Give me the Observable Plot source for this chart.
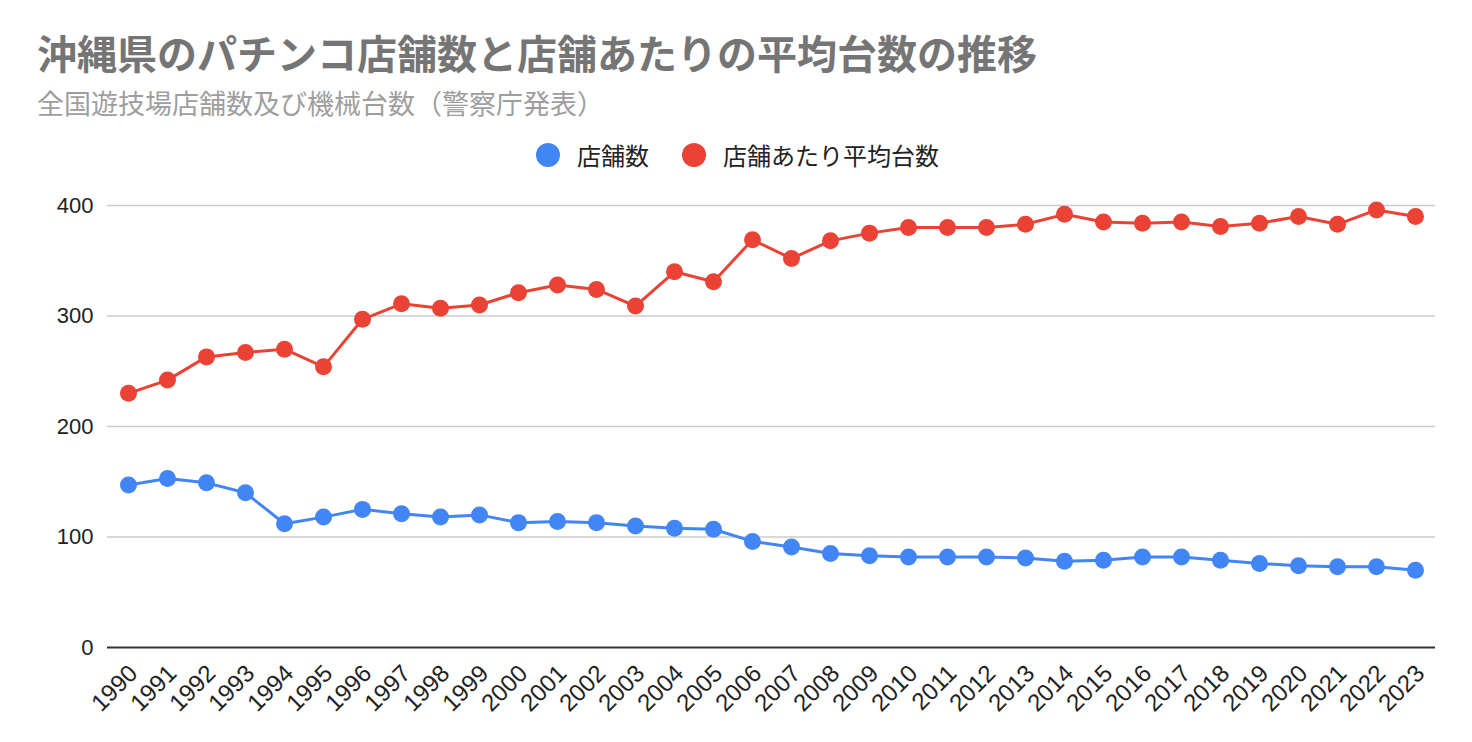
<!DOCTYPE html>
<html>
<head>
<meta charset="utf-8">
<script src="https://cdn.jsdelivr.net/npm/d3@7"></script>
<script src="https://cdn.jsdelivr.net/npm/@observablehq/plot@0.6"></script>
<style>
  html, body { margin: 0; padding: 0; background: #fff; }
  #wrap { position: relative; width: 1472px; height: 742px; overflow: hidden; }
  .abs { position: absolute; white-space: nowrap; font-family: "Noto Sans CJK JP", "Noto Sans", sans-serif; }
  #title { left: 37px; top: 32px; font-size: 40px; line-height: 40px; font-weight: bold; color: #757575; }
  #subtitle { left: 37px; top: 89px; font-size: 27px; line-height: 27px; color: #9e9e9e; }
  #legend { left: 536px; top: 143px; font-size: 24px; line-height: 24px; color: #222; display: flex; align-items: center; }
  #legend .sw { width: 24px; height: 24px; border-radius: 50%; display: inline-block; margin-right: 17px; }
  #legend .item { display: flex; align-items: center; margin-right: 33px; }
  #chart { position: absolute; left: 0; top: 180px; }
</style>
</head>
<body>
<div id="wrap">
  <div id="title" class="abs"></div>
  <div id="subtitle" class="abs"></div>
  <div id="legend" class="abs"></div>
  <div id="chart"></div>
</div>
<script>
const titleText = "沖縄県のパチンコ店舗数と店舗あたりの平均台数の推移";
const subtitleText = "全国遊技場店舗数及び機械台数（警察庁発表）";
const seriesNames = ["店舗数", "店舗あたり平均台数"];
const seriesColors = ["#4285F4", "#EA4335"];

const years = [1990,1991,1992,1993,1994,1995,1996,1997,1998,1999,2000,2001,2002,2003,2004,2005,2006,2007,2008,2009,2010,2011,2012,2013,2014,2015,2016,2017,2018,2019,2020,2021,2022,2023];
const stores = [147,153,149,140,112,118,125,121,118,120,113,114,113,110,108,107,96,91,85,83,82,82,82,81,78,79,82,82,79,76,74,73,73,70];
const avgMachines = [230,242,263,267,270,254,297,311,307,310,321,328,324,309,340,331,369,352,368,375,380,380,380,383,392,385,384,385,381,384,390,383,396,390];
const yTicks = [0,100,200,300,400];

document.getElementById("title").textContent = titleText;
document.getElementById("subtitle").textContent = subtitleText;
const legend = document.getElementById("legend");
seriesNames.forEach((name, i) => {
  const item = document.createElement("span");
  item.className = "item";
  const sw = document.createElement("span");
  sw.className = "sw";
  sw.style.background = seriesColors[i];
  const t = document.createElement("span");
  t.textContent = name;
  item.appendChild(sw);
  item.appendChild(t);
  legend.appendChild(item);
});

const rows = [];
years.forEach((y, i) => {
  rows.push({year: y, value: stores[i], series: seriesNames[0]});
  rows.push({year: y, value: avgMachines[i], series: seriesNames[1]});
});

const chart = Plot.plot({
  width: 1472,
  height: 562,
  marginTop: 25,
  marginBottom: 95,
  marginLeft: 107,
  marginRight: 37,
  style: { fontFamily: "'Liberation Sans', Arial, sans-serif", color: "#222", background: "#fff" },
  x: { type: "point", domain: years, padding: 0.5, label: null },
  y: { domain: [0, 400], label: null },
  color: { domain: seriesNames, range: seriesColors },
  marks: [
    Plot.gridY(yTicks.filter(d => d > 0), { stroke: "#cccccc", strokeOpacity: 1, strokeWidth: 1.5 }),
    Plot.axisY(yTicks, { tickSize: 0, tickPadding: 14, fontSize: 22, label: null }),
    Plot.axisX(years, { tickSize: 0, tickRotate: -45, fontSize: 24, tickPadding: 22, dx: 5, tickFormat: d => String(d), label: null }),
    Plot.ruleY([0], { stroke: "#333", strokeWidth: 2 }),
    Plot.line(rows, { x: "year", y: "value", z: "series", stroke: "series", strokeWidth: 3 }),
    Plot.dot(rows, { x: "year", y: "value", fill: "series", r: 8.5, stroke: null })
  ]
});
document.getElementById("chart").appendChild(chart);
</script>
</body>
</html>
